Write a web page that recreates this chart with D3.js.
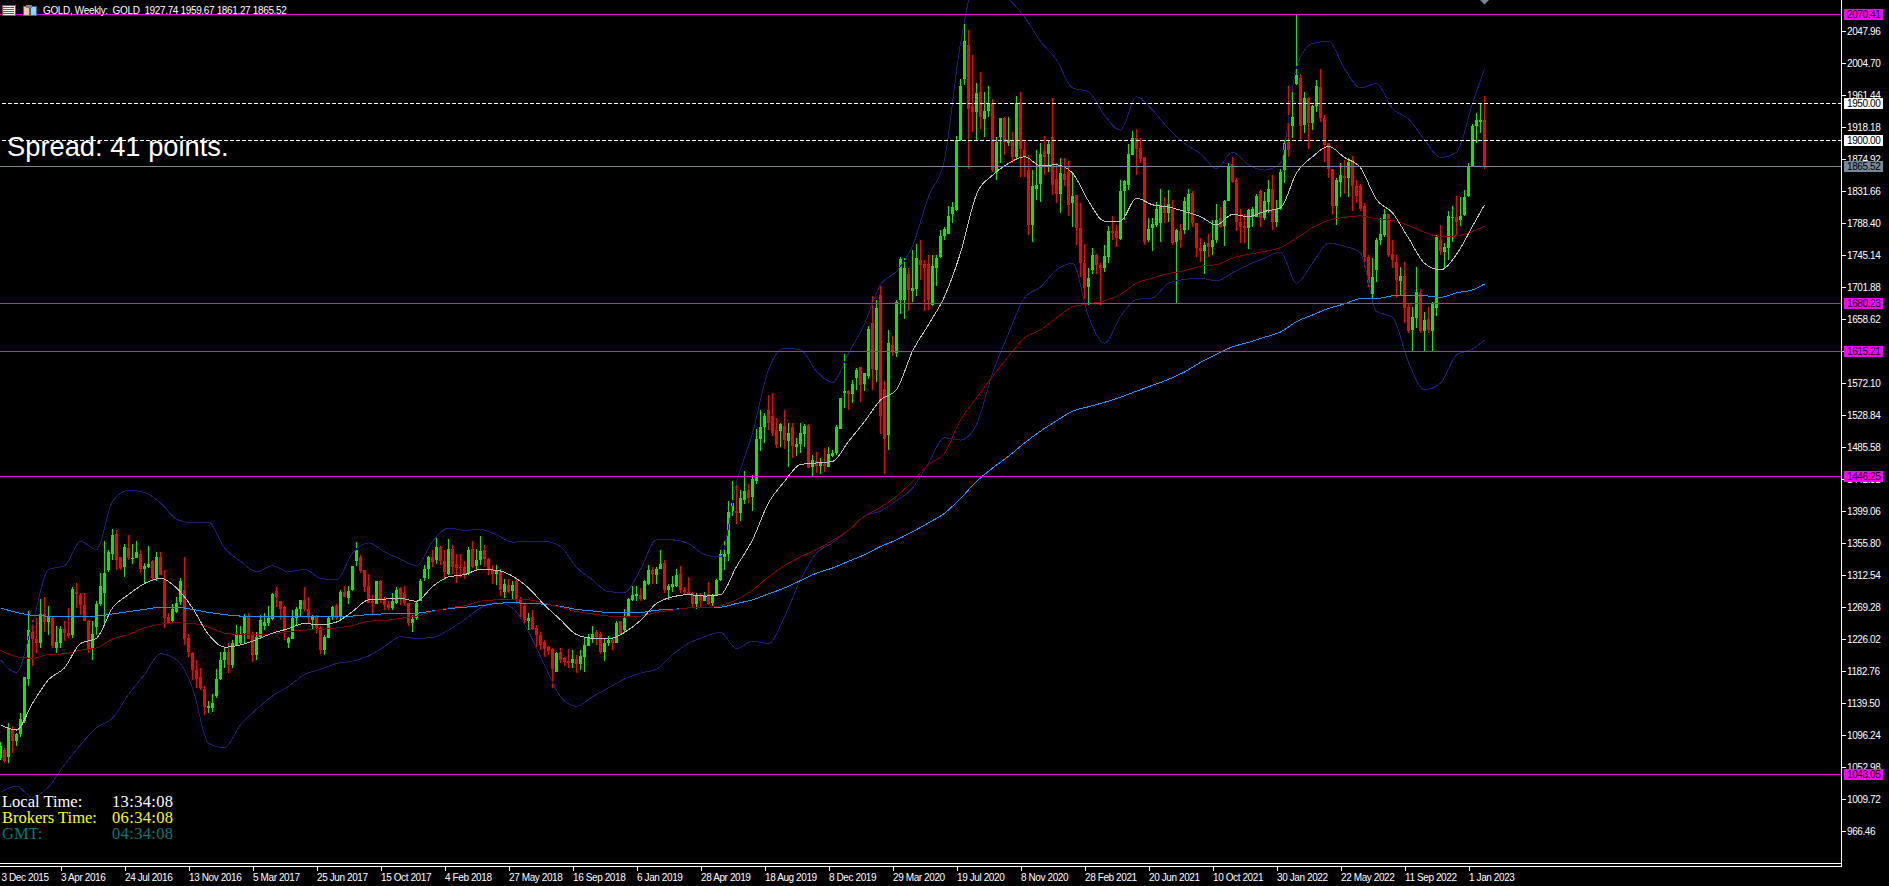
<!DOCTYPE html>
<html>
<head>
<meta charset="utf-8">
<title>GOLD, Weekly</title>
<script src="https://cdn.jsdelivr.net/npm/d3@7"></script>
<style>
  html, body { margin: 0; padding: 0; background: #000; overflow: hidden; }
  text { font-family: "Liberation Sans", Arial, sans-serif; }
</style>
</head>
<body>
<div id="chart"></div>
<script>
// weekly candles, one entry per bar, left to right
var opens = [
  1065,1076,1066,1103,1088,1097,1115,1172,1236,1226,1220,1260,1249,1254,1214,1220,1240,1234,1232,1290,
  1285,1272,1250,1212,1242,1274,1288,1319,1341,1368,1337,1323,1349,1335,1336,1341,1320,1323,1331,1308,
  1337,1306,1256,1250,1263,1276,1292,1227,1207,1184,1175,1158,1133,1133,1149,1172,1197,1208,1191,1217,
  1220,1234,1257,1233,1204,1229,1243,1248,1253,1291,1277,1269,1220,1226,1254,1267,1279,1266,1252,1257,
  1241,1211,1228,1256,1271,1256,1289,1281,1292,1332,1337,1319,1298,1278,1274,1304,1280,1274,1268,1275,
  1295,1288,1275,1247,1254,1278,1308,1320,1337,1333,1351,1332,1314,1348,1328,1323,1323,1314,1348,1325,
  1333,1346,1334,1321,1314,1317,1290,1299,1291,1304,1280,1271,1251,1256,1241,1231,1222,1215,1212,1182,
  1208,1200,1196,1193,1199,1192,1202,1217,1226,1235,1233,1208,1220,1225,1220,1250,1238,1257,1279,1284,
  1286,1280,1301,1319,1313,1320,1329,1292,1296,1297,1314,1292,1290,1288,1274,1286,1278,1287,1275,1286,
  1306,1337,1341,1399,1399,1396,1414,1428,1418,1439,1497,1512,1536,1527,1508,1507,1514,1494,1512,1486,
  1490,1503,1515,1459,1467,1460,1463,1459,1474,1478,1510,1558,1561,1557,1579,1594,1571,1581,1653,1590,
  1691,1564,1502,1624,1613,1684,1684,1720,1697,1699,1738,1733,1733,1678,1728,1743,1771,1773,1800,1806,
  1900,1983,2029,1947,1939,1965,1929,1940,1950,1858,1904,1930,1897,1901,1877,1952,1887,1860,1786,1835,
  1841,1886,1882,1904,1848,1827,1855,1858,1816,1826,1782,1734,1702,1725,1745,1732,1727,1742,1778,1777,
  1767,1832,1840,1880,1903,1890,1877,1765,1781,1786,1788,1812,1802,1808,1763,1778,1779,1805,1829,1788,
  1754,1750,1761,1756,1766,1795,1784,1818,1868,1847,1790,1784,1782,1797,1797,1831,1795,1817,1834,1790,
  1808,1860,1898,1919,1976,1984,1921,1958,1924,1946,1972,1931,1896,1862,1811,1844,1852,1849,1873,1838,
  1838,1811,1742,1693,1725,1765,1772,1801,1746,1736,1710,1717,1675,1644,1660,1694,1642,1659,1642,1673,
  1765,1749,1754,1795,1797,1792,1799,1825,1866,1919,1925,1927.74
];
var highs = [
  1087,1078,1112,1108,1099,1126,1175,1264,1252,1254,1280,1283,1271,1256,1243,1243,1250,1268,1296,1302,
  1288,1288,1252,1250,1277,1315,1359,1346,1375,1373,1337,1355,1367,1355,1359,1346,1329,1352,1333,1344,
  1343,1319,1261,1274,1283,1308,1337,1233,1208,1198,1187,1163,1142,1152,1185,1208,1214,1220,1225,1245,
  1243,1260,1261,1236,1236,1259,1261,1271,1288,1296,1278,1270,1229,1265,1269,1279,1296,1283,1259,1259,
  1243,1232,1256,1271,1274,1292,1298,1297,1325,1357,1340,1319,1314,1286,1304,1306,1283,1277,1288,1296,
  1296,1298,1275,1259,1277,1307,1326,1338,1346,1364,1352,1346,1361,1353,1341,1341,1331,1351,1358,1348,
  1365,1353,1335,1326,1326,1320,1307,1307,1304,1309,1283,1274,1261,1265,1245,1235,1224,1217,1214,1209,
  1214,1202,1213,1211,1205,1211,1227,1233,1244,1238,1236,1227,1230,1229,1251,1251,1266,1281,1298,1298,
  1295,1306,1326,1323,1323,1346,1333,1301,1311,1321,1325,1296,1310,1290,1288,1288,1290,1303,1287,1307,
  1346,1358,1412,1440,1439,1428,1453,1435,1448,1510,1536,1531,1556,1558,1525,1518,1536,1518,1518,1498,
  1518,1516,1516,1475,1479,1471,1484,1486,1482,1515,1552,1611,1562,1576,1592,1594,1585,1649,1690,1684,
  1703,1575,1644,1635,1684,1742,1741,1727,1752,1760,1765,1739,1745,1745,1745,1779,1783,1812,1817,1906,
  1983,2065,2049,2015,1977,1992,1966,1974,1956,1905,1931,1932,1932,1912,1960,1966,1900,1880,1860,1887,
  1896,1906,1901,1958,1869,1876,1876,1872,1858,1826,1815,1760,1727,1755,1747,1734,1759,1784,1798,1786,
  1847,1847,1895,1913,1916,1903,1877,1795,1795,1817,1834,1824,1833,1820,1780,1787,1824,1834,1831,1788,
  1768,1763,1774,1793,1814,1810,1820,1869,1878,1849,1808,1801,1808,1810,1827,1833,1830,1847,1853,1820,
  1862,1901,1974,1970,2070,1990,1966,1959,1948,1982,1997,1934,1896,1862,1849,1869,1874,1876,1879,1847,
  1841,1815,1745,1741,1768,1795,1807,1801,1766,1745,1729,1736,1680,1675,1729,1699,1668,1675,1682,1772,
  1786,1761,1805,1811,1825,1824,1833,1869,1922,1937,1949,1959.67
];
var lows = [
  1062,1058,1058,1072,1082,1094,1112,1163,1190,1207,1214,1236,1232,1214,1207,1214,1223,1227,1227,1268,
  1259,1250,1207,1198,1232,1270,1247,1317,1333,1319,1319,1310,1333,1328,1335,1315,1301,1322,1306,1304,
  1313,1241,1247,1248,1261,1272,1218,1202,1171,1160,1157,1123,1126,1128,1146,1171,1187,1180,1187,1216,
  1218,1220,1226,1195,1197,1227,1238,1243,1252,1269,1252,1225,1214,1226,1245,1256,1264,1247,1238,1234,
  1206,1204,1227,1252,1252,1252,1283,1274,1291,1325,1315,1290,1275,1260,1274,1275,1265,1265,1265,1274,
  1272,1270,1243,1236,1252,1277,1305,1307,1324,1328,1326,1306,1313,1314,1302,1310,1307,1313,1322,1319,
  1326,1323,1313,1301,1299,1284,1281,1288,1279,1274,1254,1245,1238,1238,1214,1211,1202,1205,1160,1182,
  1193,1189,1187,1187,1180,1184,1182,1216,1220,1218,1206,1196,1216,1211,1220,1232,1234,1256,1278,1278,
  1278,1279,1299,1301,1301,1320,1288,1279,1290,1296,1288,1286,1286,1269,1266,1269,1277,1272,1270,1284,
  1304,1319,1332,1392,1381,1385,1408,1410,1399,1436,1480,1491,1509,1501,1484,1486,1483,1458,1471,1473,
  1477,1486,1457,1445,1450,1449,1452,1458,1472,1475,1510,1538,1535,1545,1563,1547,1561,1577,1562,1574,
  1503,1449,1482,1608,1607,1665,1658,1669,1681,1690,1711,1669,1671,1676,1703,1741,1765,1773,1788,1805,
  1899,1975,1862,1912,1901,1916,1905,1932,1858,1847,1870,1880,1892,1869,1873,1850,1851,1772,1763,1820,
  1817,1853,1858,1826,1816,1802,1838,1798,1783,1759,1716,1686,1678,1720,1720,1677,1722,1734,1766,1756,
  1766,1793,1833,1880,1853,1869,1759,1763,1750,1783,1763,1788,1790,1759,1680,1754,1774,1779,1783,1743,
  1736,1719,1743,1745,1761,1781,1757,1818,1842,1778,1761,1761,1753,1783,1797,1783,1792,1802,1779,1783,
  1806,1842,1877,1903,1975,1901,1910,1889,1914,1939,1925,1871,1849,1799,1786,1824,1828,1824,1804,1815,
  1804,1729,1702,1681,1709,1759,1770,1743,1728,1689,1691,1653,1640,1615,1646,1640,1615,1640,1615,1663,
  1745,1727,1738,1763,1772,1784,1798,1823,1866,1896,1910,1861.27
];
var closes = [
  1081,1061,1106,1088,1098,1118,1174,1238,1226,1220,1260,1249,1256,1216,1222,1240,1234,1230,1294,1287,
  1272,1251,1211,1233,1274,1298,1315,1343,1367,1333,1322,1350,1335,1336,1343,1320,1325,1328,1308,1337,
  1313,1255,1248,1267,1275,1304,1226,1208,1184,1172,1160,1134,1135,1139,1172,1198,1209,1191,1220,1233,
  1233,1256,1226,1204,1229,1252,1249,1254,1287,1283,1266,1240,1227,1254,1267,1279,1266,1255,1257,1241,
  1211,1229,1254,1269,1255,1289,1283,1291,1325,1346,1318,1296,1275,1275,1304,1280,1272,1268,1277,1292,
  1281,1275,1247,1253,1275,1304,1320,1337,1330,1351,1332,1316,1348,1324,1322,1322,1313,1346,1324,1333,
  1345,1334,1321,1314,1319,1292,1301,1290,1299,1280,1274,1252,1255,1240,1231,1218,1212,1210,1185,1207,
  1198,1195,1193,1199,1192,1203,1218,1227,1233,1229,1209,1221,1224,1221,1248,1233,1255,1280,1286,1287,
  1280,1304,1319,1314,1321,1328,1292,1298,1301,1313,1292,1289,1287,1274,1286,1278,1286,1274,1284,1306,
  1341,1341,1398,1410,1396,1417,1426,1417,1442,1497,1513,1527,1518,1505,1488,1517,1495,1505,1487,1490,
  1505,1514,1457,1468,1460,1465,1460,1476,1478,1512,1552,1561,1557,1571,1589,1570,1585,1645,1591,1674,
  1528,1497,1626,1615,1682,1740,1728,1698,1701,1741,1732,1728,1684,1730,1741,1771,1780,1798,1810,1901,
  1974,2035,1943,1939,1964,1932,1940,1950,1860,1898,1930,1898,1901,1878,1950,1888,1877,1786,1838,1840,
  1882,1878,1895,1840,1827,1856,1847,1813,1825,1782,1734,1700,1714,1745,1731,1728,1744,1777,1775,1768,
  1831,1845,1882,1903,1889,1875,1763,1780,1787,1807,1813,1802,1814,1761,1779,1765,1818,1828,1788,1754,
  1750,1759,1756,1766,1793,1783,1818,1866,1844,1790,1783,1781,1806,1808,1825,1795,1818,1834,1790,1808,
  1858,1897,1887,1932,1988,1920,1957,1923,1947,1974,1931,1894,1862,1811,1847,1853,1849,1871,1839,1825,
  1807,1743,1707,1716,1765,1774,1801,1745,1738,1711,1717,1673,1642,1661,1695,1642,1657,1644,1680,1769,
  1750,1756,1798,1797,1790,1798,1824,1866,1919,1927,1928,1865.52
];

// indicators are read every fourth bar, plus the last bar
var lineBars = d3.range(0, 372, 4).concat([371]);
var maFast = [
  1110,1103,1139,1171,1187,1220,1227,1268,1286,1301,1308,1295,1268,1232,1215,1218,1225,1234,1240,1247,1245,1249,1263,1279,1280,
  1281,1277,1297,1310,1313,1320,1319,1311,1295,1272,1252,1232,1227,1226,1235,1251,1274,1283,1286,1284,1286,1324,1360,1410,1439,
  1462,1464,1466,1493,1520,1549,1563,1615,1651,1689,1748,1827,1853,1869,1878,1866,1867,1856,1818,1791,1791,1822,1813,1810,1804,
  1797,1786,1800,1797,1804,1809,1856,1878,1892,1877,1863,1820,1802,1768,1734,1725,1746,1784,1813
];
var maMid = [
  1211,1202,1200,1205,1206,1211,1214,1226,1232,1241,1246,1248,1247,1242,1234,1232,1232,1233,1236,1238,1239,1241,1244,1250,1251,
  1254,1257,1263,1268,1271,1277,1279,1280,1279,1274,1269,1263,1260,1257,1256,1257,1262,1265,1268,1268,1271,1279,1292,1310,1325,
  1337,1347,1359,1373,1392,1404,1419,1439,1462,1477,1522,1552,1581,1608,1633,1644,1660,1675,1679,1683,1692,1707,1714,1720,1724,
  1730,1732,1741,1746,1750,1755,1768,1782,1792,1796,1798,1794,1792,1785,1776,1770,1771,1777,1784
];
var maSlow = [
  1268,1262,1258,1257,1257,1257,1257,1260,1263,1266,1269,1269,1266,1262,1259,1257,1256,1256,1257,1257,1256,1256,1257,1259,1260,
  1261,1261,1264,1267,1269,1271,1274,1275,1274,1273,1270,1266,1264,1262,1262,1262,1265,1266,1268,1268,1269,1274,1279,1287,1295,
  1305,1315,1322,1331,1340,1351,1360,1371,1383,1396,1416,1439,1457,1473,1491,1507,1521,1534,1540,1546,1553,1561,1569,1577,1587,
  1600,1611,1621,1627,1634,1641,1655,1664,1673,1679,1686,1686,1690,1690,1690,1688,1694,1698,1706
];
var bandUpper = [
  1198,1181,1247,1320,1325,1358,1347,1412,1427,1424,1410,1388,1383,1384,1349,1331,1317,1325,1317,1320,1308,1306,1342,1356,1344,
  1334,1325,1358,1376,1373,1374,1367,1357,1358,1358,1351,1323,1306,1290,1289,1320,1360,1360,1355,1340,1337,1437,1504,1590,1619,
  1617,1588,1573,1612,1652,1705,1723,1757,1824,1874,2031,2117,2117,2092,2067,2034,2009,1971,1966,1934,1914,1959,1941,1916,1896,
  1882,1862,1884,1867,1860,1869,1999,2031,2034,1997,1971,1977,1943,1929,1901,1877,1884,1950,1997
];
var bandLower = [
  1019,1027,1012,1026,1056,1083,1106,1119,1151,1178,1206,1198,1160,1085,1079,1110,1131,1149,1162,1178,1185,1193,1196,1203,1216,
  1229,1227,1228,1238,1252,1268,1275,1268,1236,1191,1148,1135,1148,1160,1172,1180,1185,1205,1220,1229,1235,1213,1223,1220,1256,
  1306,1342,1356,1373,1392,1399,1413,1430,1464,1498,1495,1516,1585,1639,1687,1702,1725,1734,1662,1626,1662,1685,1687,1707,1712,
  1714,1710,1721,1732,1741,1749,1707,1734,1761,1757,1748,1669,1661,1600,1563,1572,1610,1618,1630
];

// horizontal levels on the chart
var magentaLevels = [2070.41, 1680.23, 1615.21, 1446.25, 1043.05];
var dashedLevels = [1950, 1900];
var bidLevel = 1865.52;

// axis ticks
var priceTicks = [2047.96, 2004.70, 1961.44, 1918.18, 1874.92, 1831.66, 1788.40, 1745.14, 1701.88, 1658.62, 1615.36, 1572.10,
  1528.84, 1485.58, 1442.32, 1399.06, 1355.80, 1312.54, 1269.28, 1226.02, 1182.76, 1139.50, 1096.24, 1052.98, 1009.72, 966.46];
var timeBars = [-1, 15, 31, 47, 63, 79, 95, 111, 127, 143, 159, 175, 191, 207, 223, 239, 255, 271, 287, 303, 319, 335, 351, 367];
var timeLabels = ["3 Dec 2015", "3 Apr 2016", "24 Jul 2016", "13 Nov 2016", "5 Mar 2017", "25 Jun 2017", "15 Oct 2017", "4 Feb 2018",
  "27 May 2018", "16 Sep 2018", "6 Jan 2019", "28 Apr 2019", "18 Aug 2019", "8 Dec 2019", "29 Mar 2020", "19 Jul 2020", "8 Nov 2020",
  "28 Feb 2021", "20 Jun 2021", "10 Oct 2021", "30 Jan 2022", "22 May 2022", "11 Sep 2022", "1 Jan 2023"];

var clockRows = ["Local Time:", "Brokers Time:", "GMT:"];
var clockTimes = ["13:34:08", "06:34:08", "04:34:08"];
var clockColors = ["#ffffff", "#ffff00", "#007b7b"];

var width = 1889, height = 886;
var plotRight = 1841, plotBottom = 863;

var svg = d3.select("#chart").append("svg")
  .attr("width", width)
  .attr("height", height)
  .style("display", "block")
  .style("background", "#000");

var x = d3.scaleLinear().domain([0, 371]).range([0.5, 1484.5]);
var y = d3.scaleLinear().domain([2047.96, 966.46]).range([31, 831]);

svg.append("clipPath").attr("id", "plot")
  .append("rect").attr("width", plotRight).attr("height", plotBottom);

var g = svg.append("g").attr("clip-path", "url(#plot)");

// candles
var bars = opens.map(function(o, i) {
  return { i: i, o: o, h: highs[i], l: lows[i], c: closes[i] };
});
var barColor = function(d) { return d.c >= d.o ? "#00f000" : "#ff0000"; };

var candle = g.append("g").attr("shape-rendering", "crispEdges")
  .selectAll("g").data(bars).enter().append("g");

candle.append("line")
  .attr("x1", function(d) { return x(d.i); })
  .attr("x2", function(d) { return x(d.i); })
  .attr("y1", function(d) { return y(d.h); })
  .attr("y2", function(d) { return y(d.l); })
  .attr("stroke", barColor);

candle.append("rect")
  .attr("x", function(d) { return x(d.i) - 1.5; })
  .attr("width", 3)
  .attr("y", function(d) { return y(Math.max(d.o, d.c)); })
  .attr("height", function(d) { return Math.max(1, Math.abs(y(d.o) - y(d.c))); })
  .attr("fill", barColor);

// indicators
var line = d3.line()
  .curve(d3.curveMonotoneX)
  .x(function(d, i) { return x(lineBars[i]); })
  .y(function(d) { return y(d); });

var series = [
  { values: bandUpper, color: "#1c1c78" },
  { values: bandLower, color: "#1c1c78" },
  { values: maSlow, color: "#1e90ff" },
  { values: maMid, color: "#800000" },
  { values: maFast, color: "#c0c0c0" }
];

g.append("g").attr("shape-rendering", "crispEdges")
  .selectAll("path").data(series).enter().append("path")
  .attr("fill", "none")
  .attr("stroke", function(d) { return d.color; })
  .attr("stroke-width", 1)
  .attr("d", function(d) { return line(d.values); });

// level lines
var levels = g.append("g").attr("shape-rendering", "crispEdges");

levels.selectAll(".magenta").data(magentaLevels).enter().append("line")
  .attr("class", "magenta")
  .attr("x1", 0).attr("x2", plotRight)
  .attr("y1", function(d) { return Math.round(y(d)) + 0.5; })
  .attr("y2", function(d) { return Math.round(y(d)) + 0.5; })
  .attr("stroke", "#f000f0");

levels.selectAll(".dashed").data(dashedLevels).enter().append("line")
  .attr("class", "dashed")
  .attr("x1", 2).attr("x2", plotRight)
  .attr("y1", function(d) { return Math.round(y(d)) + 0.5; })
  .attr("y2", function(d) { return Math.round(y(d)) + 0.5; })
  .attr("stroke", "#ffffff")
  .attr("stroke-dasharray", "4,2");

levels.append("line")
  .attr("x1", 0).attr("x2", plotRight)
  .attr("y1", Math.round(y(bidLevel)) + 0.5)
  .attr("y2", Math.round(y(bidLevel)) + 0.5)
  .attr("stroke", "#778899");

// little marker over the last bar
svg.append("path")
  .attr("d", d3.line()([[x(371) - 4.5, 0], [x(371) + 4.5, 0], [x(371), 4.5]]))
  .attr("fill", "#778899");

// frame
var frame = svg.append("g").attr("stroke", "#ffffff").attr("shape-rendering", "crispEdges");
frame.append("line").attr("x1", plotRight + 0.5).attr("x2", plotRight + 0.5).attr("y1", 0).attr("y2", 867);
frame.append("line").attr("x1", 0).attr("x2", plotRight + 1).attr("y1", 863.5).attr("y2", 863.5);
frame.append("line").attr("x1", 0).attr("x2", plotRight + 1).attr("y1", 866.5).attr("y2", 866.5);

// price axis
var priceAxis = d3.axisRight(y)
  .tickValues(priceTicks)
  .tickSize(4)
  .tickPadding(1)
  .tickFormat(d3.format(".2f"));

var gPrice = svg.append("g")
  .attr("transform", "translate(" + (plotRight + 1) + ",0)")
  .call(priceAxis);
gPrice.select(".domain").remove();
gPrice.selectAll("line").attr("stroke", "#ffffff").attr("shape-rendering", "crispEdges");
gPrice.selectAll("text")
  .attr("fill", "#ffffff")
  .attr("font-family", "Liberation Sans")
  .attr("font-size", 10)
  .attr("letter-spacing", "-0.4");

// time axis
var timeAxis = d3.axisBottom(x)
  .tickValues(timeBars)
  .tickSize(4)
  .tickFormat(function(d, i) { return timeLabels[i]; });

var gTime = svg.append("g")
  .attr("transform", "translate(0,867)")
  .call(timeAxis);
gTime.select(".domain").remove();
gTime.selectAll("line").attr("stroke", "#ffffff").attr("shape-rendering", "crispEdges");
gTime.selectAll("text")
  .attr("fill", "#ffffff")
  .attr("font-family", "Liberation Sans")
  .attr("font-size", 10)
  .attr("letter-spacing", "-0.4")
  .attr("text-anchor", "start")
  .attr("y", 7)
  .attr("dy", "0.71em");
gTime.select(".tick text").attr("x", 4.5);

// price tags on the scale
var tags = magentaLevels.map(function(v) { return { v: v, color: "#ff00ff" }; })
  .concat(dashedLevels.map(function(v) { return { v: v, color: "#ffffff" }; }))
  .concat([{ v: bidLevel, color: "#778899" }]);

var tag = svg.append("g").selectAll("g").data(tags).enter().append("g")
  .attr("transform", function(d) { return "translate(1844," + Math.round(y(d.v)) + ")"; });

tag.append("rect")
  .attr("y", -5)
  .attr("width", 39)
  .attr("height", 11)
  .attr("fill", function(d) { return d.color; });

tag.append("text")
  .attr("x", 3)
  .attr("y", 4)
  .attr("fill", "#000000")
  .attr("font-size", 10)
  .attr("letter-spacing", "-0.4")
  .text(function(d) { return d3.format(".2f")(d.v); });

// header
var icons = svg.append("g").attr("shape-rendering", "crispEdges");
icons.append("rect").attr("x", 2).attr("y", 5).attr("width", 13).attr("height", 10)
  .attr("fill", "#ffffff").attr("stroke", "#e03020");
icons.selectAll(".row").data([7, 9, 11, 13]).enter().append("rect")
  .attr("class", "row")
  .attr("x", 3).attr("y", function(d) { return d; }).attr("width", 11).attr("height", 1)
  .attr("fill", "#e03020");
icons.append("rect").attr("x", 23).attr("y", 6).attr("width", 6).attr("height", 9)
  .attr("fill", "#ffc0b0").attr("stroke", "#e03020");
icons.append("rect").attr("x", 30).attr("y", 6).attr("width", 6).attr("height", 9)
  .attr("fill", "#a0d0f0").attr("stroke", "#1070b0");
icons.append("rect").attr("x", 26).attr("y", 5).attr("width", 6).attr("height", 3)
  .attr("fill", "#808080");

svg.append("text")
  .attr("x", 43)
  .attr("y", 14)
  .attr("fill", "#ffffff")
  .attr("font-size", 10)
  .attr("letter-spacing", "-0.35")
  .attr("xml:space", "preserve")
  .style("white-space", "pre")
  .text("GOLD, Weekly:  GOLD  1927.74 1959.67 1861.27 1865.52");

// spread label
svg.append("text")
  .attr("x", 7)
  .attr("y", 156)
  .attr("fill", "#ffffff")
  .attr("font-size", 27.3)
  .text("Spread: 41 points.");

// clock labels
var clock = svg.append("g")
  .attr("font-size", 16.5);

clockRows.forEach(function(label, i) {
  clock.append("text")
    .attr("x", 2).attr("y", 807 + i * 16)
    .attr("fill", clockColors[i])
    .style("font-family", "'Liberation Serif', serif")
    .text(label);
  clock.append("text")
    .attr("x", 112).attr("y", 807 + i * 16)
    .attr("fill", clockColors[i])
    .style("font-family", "'Liberation Serif', serif")
    .attr("letter-spacing", "0.35")
    .text(clockTimes[i]);
});
</script>
</body>
</html>
